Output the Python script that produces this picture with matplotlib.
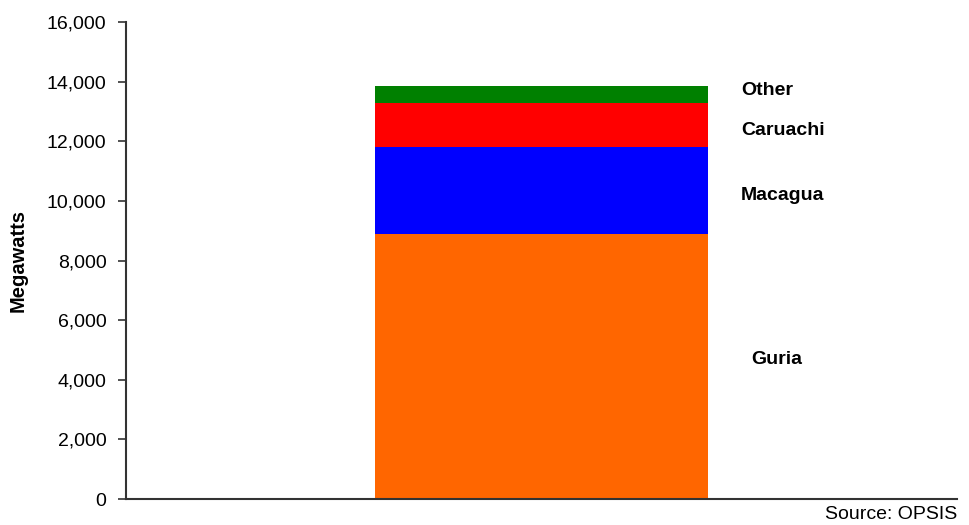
import matplotlib.pyplot as plt
from matplotlib.ticker import FuncFormatter

# data (MW)
plants = ['Guria', 'Macagua', 'Caruachi', 'Other']
capacity = [8900, 2900, 1470, 590]
colors = ['#FF6600', '#0000FF', '#FF0000', '#008000']
# nudges for the side labels (points)
label_dx = [0.505, 0.48, 0.48, 0.48]
label_dy = [5, -3.6, -3.6, 3]

plt.rcParams['font.family'] = ['Liberation Sans', 'DejaVu Sans']

fig = plt.figure(figsize=(9.69, 5.25), dpi=100)
ax = fig.add_axes([0.130, 0.0495, 0.8576, 0.9086])

bottom = 0
for name, val, c, dx, dy in zip(plants, capacity, colors, label_dx, label_dy):
    ax.bar(0, val, bottom=bottom, width=0.8, color=c, linewidth=0)
    ax.annotate(name, (dx, bottom + val / 2), xytext=(0, dy),
                textcoords='offset points', fontsize=14, fontweight='bold',
                va='center', ha='left')
    bottom += val

ax.set_xlim(-1, 1)
ax.set_ylim(0, 16000)
ax.set_yticks(range(0, 16001, 2000))
ax.yaxis.set_major_formatter(FuncFormatter(lambda v, p: f'{int(v):,}'))
ax.set_xticks([])
ax.tick_params(axis='y', labelsize=14, length=6, width=1.2, color='#333333', pad=8)
ax.set_ylabel('Megawatts', fontsize=14.5, fontweight='bold', labelpad=14)

for s in ['top', 'right']:
    ax.spines[s].set_visible(False)
for s in ['left', 'bottom']:
    ax.spines[s].set_color('#333333')
    ax.spines[s].set_linewidth(1.5)

fig.text(0.988, 0.004, 'Source: OPSIS', ha='right', va='bottom', fontsize=14)

fig.savefig('out.png', dpi=100)
